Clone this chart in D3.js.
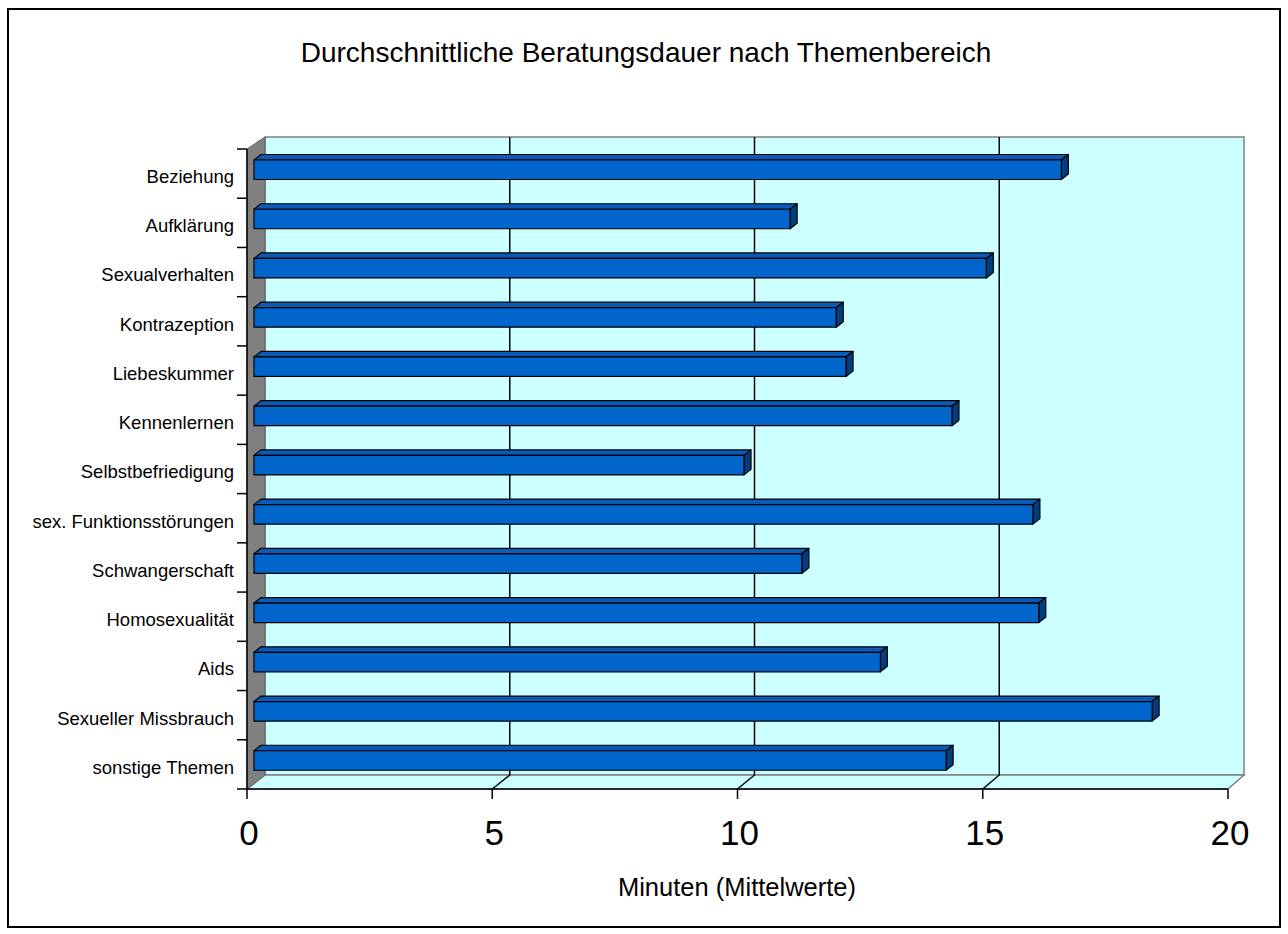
<!DOCTYPE html>
<html>
<head>
<meta charset="utf-8">
<script src="https://cdn.jsdelivr.net/npm/d3@7"></script>
<style>
  html, body { margin: 0; padding: 0; background: #fff; }
  svg { display: block; font-family: "Liberation Sans", Arial, sans-serif; }
</style>
</head>
<body>
<svg id="chart" width="1288" height="934"></svg>
<script>
// Themenbereiche (von oben nach unten) und mittlere Beratungsdauer in Minuten
const categories = [
  "Beziehung", "Aufklärung", "Sexualverhalten", "Kontrazeption", "Liebeskummer",
  "Kennenlernen", "Selbstbefriedigung", "sex. Funktionsstörungen", "Schwangerschaft",
  "Homosexualität", "Aids", "Sexueller Missbrauch", "sonstige Themen"
];
const minutes = [16.46, 10.93, 14.93, 11.87, 12.07, 14.23, 9.99, 15.88, 11.17, 16.0, 12.77, 18.31, 14.11];
const xTicks = [0, 5, 10, 15, 20];
const gridValues = [5, 10, 15];

const title = "Durchschnittliche Beratungsdauer nach Themenbereich";
const xTitle = "Minuten (Mittelwerte)";

const svg = d3.select("#chart");

// Outer frame
svg.append("rect")
  .attr("x", 8).attr("y", 9).attr("width", 1272).attr("height", 918)
  .attr("fill", "#fff").attr("stroke", "#000").attr("stroke-width", 2);

// Geometry of the pseudo-3D box: front plane and back plane
const front = { left: 247, right: 1228, top: 149, bottom: 789 };
const back  = { left: 265, right: 1244, top: 137, bottom: 775 };

const xFront = d3.scaleLinear().domain([0, 20]).range([front.left, front.right]);
const xBack  = d3.scaleLinear().domain([0, 20]).range([back.left, back.right]);
const xBar   = d3.scaleLinear().domain([0, 20]).range([front.left + 7, front.right + 7]);
const yBand  = d3.scaleBand().domain(categories).range([front.top, front.bottom]).padding(0);

// Back wall
svg.append("rect")
  .attr("x", back.left).attr("y", back.top)
  .attr("width", back.right - back.left).attr("height", back.bottom - back.top)
  .attr("fill", "#CCFFFF").attr("stroke", "#808080").attr("stroke-width", 1.5);

// Floor
svg.append("polygon")
  .attr("points", [
    [front.left, front.bottom], [back.left, back.bottom],
    [back.right, back.bottom], [front.right, front.bottom]
  ].map(p => p.join(",")).join(" "))
  .attr("fill", "#CCFFFF").attr("stroke", "#808080").attr("stroke-width", 1.5);

// Side wall (left)
svg.append("polygon")
  .attr("points", [
    [front.left, front.top], [back.left, back.top],
    [back.left, back.bottom], [front.left, front.bottom]
  ].map(p => p.join(",")).join(" "))
  .attr("fill", "#808080").attr("stroke", "#606060").attr("stroke-width", 1);

// Gridlines on back wall and across the floor
const grid = svg.append("g").attr("stroke", "#000").attr("stroke-width", 1.5).attr("fill", "none");
gridValues.forEach(v => {
  grid.append("polyline")
    .attr("points", [
      [xBack(v), back.top], [xBack(v), back.bottom], [xFront(v), front.bottom]
    ].map(p => p.join(",")).join(" "));
});

// Bars: front face, top face and end cap
const faceTop = 11, faceH = 19.5, dX = 7, dY = -5.5;
const bars = svg.append("g");
categories.forEach((c, i) => {
  const v = minutes[i];
  const x0 = xBar(0), x1 = xBar(v);
  const y0 = yBand(c) + faceTop, y1 = y0 + faceH;
  const g = bars.append("g").attr("stroke", "#000").attr("stroke-width", 1.2).attr("stroke-linejoin", "round");
  // top face
  g.append("polygon")
    .attr("points", [[x0, y0], [x0 + dX, y0 + dY], [x1 + dX, y0 + dY], [x1, y0]].map(p => p.join(",")).join(" "))
    .attr("fill", "#0A5BB8");
  // end cap
  g.append("polygon")
    .attr("points", [[x1, y0], [x1 + dX, y0 + dY], [x1 + dX, y1 + dY], [x1, y1]].map(p => p.join(",")).join(" "))
    .attr("fill", "#003E80");
  // front face
  g.append("rect")
    .attr("x", x0).attr("y", y0).attr("width", x1 - x0).attr("height", faceH)
    .attr("fill", "#0066CC");
});

// Category axis (left edge of the side wall)
const catAxis = svg.append("g").attr("stroke", "#000").attr("stroke-width", 1.5);
catAxis.append("line")
  .attr("x1", front.left).attr("x2", front.left)
  .attr("y1", front.top).attr("y2", front.bottom);
const bounds = categories.map(c => yBand(c)).concat([front.bottom]);
bounds.forEach(y => {
  catAxis.append("line")
    .attr("x1", front.left - 10).attr("x2", front.left)
    .attr("y1", y).attr("y2", y);
});
svg.append("g").selectAll("text").data(categories).join("text")
  .attr("x", 234)
  .attr("y", d => yBand(d) + 34)
  .attr("text-anchor", "end")
  .attr("font-size", "18.5px")
  .attr("fill", "#000")
  .text(d => d);

// Value axis (front edge of the floor)
const valAxis = svg.append("g").attr("stroke", "#000").attr("stroke-width", 1.5);
valAxis.append("line")
  .attr("x1", front.left).attr("x2", front.right)
  .attr("y1", front.bottom).attr("y2", front.bottom);
xTicks.forEach(t => {
  valAxis.append("line")
    .attr("x1", xFront(t)).attr("x2", xFront(t))
    .attr("y1", front.bottom).attr("y2", front.bottom + 10);
});
svg.append("g").selectAll("text").data(xTicks).join("text")
  .attr("x", d => xFront(d) + 2)
  .attr("y", 845)
  .attr("text-anchor", "middle")
  .attr("font-size", "35px")
  .attr("fill", "#000")
  .text(d => d);

// Titles
svg.append("text")
  .attr("x", 737).attr("y", 896)
  .attr("text-anchor", "middle").attr("font-size", "25.5px").attr("fill", "#000")
  .text(xTitle);
svg.append("text")
  .attr("x", 646).attr("y", 62)
  .attr("text-anchor", "middle").attr("font-size", "28px").attr("fill", "#000")
  .text(title);
</script>
</body>
</html>
